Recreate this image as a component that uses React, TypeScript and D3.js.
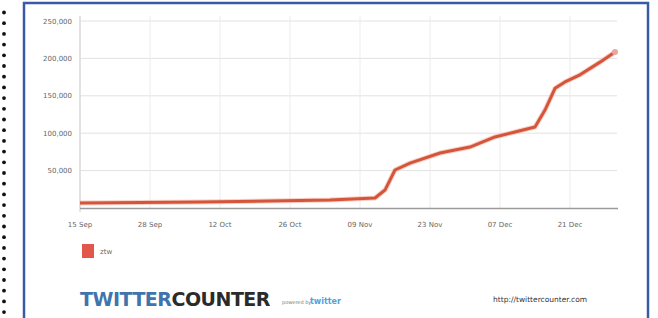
import React from "react";
import * as d3 from "d3";

const days: number[] = [0, 24, 50, 59, 61, 63, 66, 72, 78, 83, 87, 91, 93, 95, 97, 100, 104, 107];
const followers: number[] = [6700, 8000, 10700, 13400, 24000, 50800, 60000, 73500, 81500, 95000, 101600, 108300, 131000, 160000, 168500, 178000, 195000, 208600];
const xTickDays: number[] = [0, 14, 28, 42, 56, 70, 84, 98];
const xTickLabels: string[] = ["15 Sep", "28 Sep", "12 Oct", "26 Oct", "09 Nov", "23 Nov", "07 Dec", "21 Dec"];
const yTicks: number[] = [50000, 100000, 150000, 200000, 250000];
const seriesName = "ztw";

const W = 658;
const H = 318;

export default function App() {
  const x = d3.scaleLinear().domain([0, 107]).range([80, 615]);
  const y = d3.scaleLinear().domain([0, 250000]).range([208, 21]);
  const fmt = d3.format(",");
  const line = d3
    .line<number>()
    .x((_, i) => x(days[i]))
    .y((v) => y(v))
    .curve(d3.curveLinear);
  const path = line(followers) || "";
  const dots = d3.range(0, 29).map((i) => 12.5 + i * 10.7);
  const lastI = followers.length - 1;

  return (
    <svg
      width={W}
      height={H}
      style={{ position: "absolute", left: 0, top: 0, background: "#fff" }}
      fontFamily="Verdana, 'DejaVu Sans', sans-serif"
    >
      {dots.map((cy, i) => (
        <circle key={i} cx={4} cy={cy} r={1.9} fill="#111" />
      ))}
      <rect x={24} y={3} width={624} height={330} fill="#fff" stroke="#3a5aa6" strokeWidth={2.5} />
      {/* gridlines */}
      {yTicks.map((t) => (
        <line key={t} x1={80} x2={617} y1={y(t)} y2={y(t)} stroke="#e2e2e2" strokeWidth={1} />
      ))}
      {xTickDays.map((d) => (
        <line key={d} x1={x(d)} x2={x(d)} y1={16} y2={208} stroke="#ececec" strokeWidth={1} />
      ))}
      <line x1={80} x2={80} y1={16} y2={212} stroke="#cfcfcf" strokeWidth={1} />
      <line x1={80} x2={618} y1={208.5} y2={208.5} stroke="#9a9a9a" strokeWidth={1.5} />
      {yTicks.map((t) => (
        <text key={t} x={72} y={y(t) + 2.5} textAnchor="end" fontSize={7} fill="#666">
          {fmt(t)}
        </text>
      ))}
      {xTickDays.map((d, i) => (
        <text key={d} x={x(d)} y={227} textAnchor="middle" fontSize={7} fill="#666">
          {xTickLabels[i]}
        </text>
      ))}
      <path d={path} fill="none" stroke="#f3b3a2" strokeWidth={5} strokeLinejoin="round" opacity={0.6} />
      <path d={path} fill="none" stroke="#d5553a" strokeWidth={3} strokeLinejoin="round" />
      <circle cx={x(days[lastI])} cy={y(followers[lastI])} r={3} fill="#e9a5a0" />
      {/* legend */}
      <rect x={82} y={244} width={12} height={14} fill="#e3564a" />
      <text x={100} y={254} fontSize={7} fill="#666">{seriesName}</text>
      {/* logo */}
      <text x={80} y={306} fontSize={19} fontWeight="bold" fill="#3f74ad" fontFamily="'DejaVu Sans', sans-serif" letterSpacing={-0.5}>
        TWITTER
        <tspan fill="#2b2b2b">COUNTER</tspan>
      </text>
      <text x={282} y={304} fontSize={5} fill="#777">powered by</text>
      <text x={310} y={304} fontSize={8} fontWeight="bold" fill="#4aa3df">twitter</text>
      <text x={493} y={302} fontSize={7.5} fill="#333">http://twittercounter.com</text>
    </svg>
  );
}
